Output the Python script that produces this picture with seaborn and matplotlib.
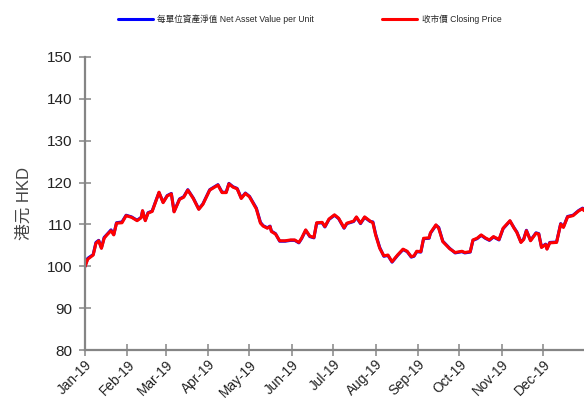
import matplotlib
matplotlib.use("Agg")
import matplotlib.pyplot as plt
import matplotlib.dates as mdates
import seaborn as sns
import pandas as pd

dates = [
    "2019-01-01", "2019-01-03", "2019-01-07", "2019-01-09", "2019-01-11", "2019-01-13", "2019-01-15", "2019-01-17",
    "2019-01-20", "2019-01-22", "2019-01-24", "2019-01-28", "2019-01-31", "2019-02-04", "2019-02-08", "2019-02-11",
    "2019-02-12", "2019-02-14", "2019-02-16", "2019-02-19", "2019-02-22", "2019-02-24", "2019-02-27", "2019-03-02",
    "2019-03-05", "2019-03-07", "2019-03-11", "2019-03-14", "2019-03-17", "2019-03-21", "2019-03-25", "2019-03-28",
    "2019-04-02", "2019-04-08", "2019-04-11", "2019-04-14", "2019-04-16", "2019-04-19", "2019-04-22", "2019-04-25",
    "2019-04-28", "2019-05-01", "2019-05-06", "2019-05-09", "2019-05-11", "2019-05-14", "2019-05-16", "2019-05-17",
    "2019-05-20", "2019-05-23", "2019-05-27", "2019-05-31", "2019-06-03", "2019-06-06", "2019-06-08", "2019-06-11",
    "2019-06-14", "2019-06-17", "2019-06-19", "2019-06-23", "2019-06-25", "2019-06-28", "2019-07-02", "2019-07-05",
    "2019-07-09", "2019-07-11", "2019-07-16", "2019-07-18", "2019-07-21", "2019-07-24", "2019-07-28", "2019-07-30",
    "2019-08-01", "2019-08-04", "2019-08-07", "2019-08-10", "2019-08-13", "2019-08-17", "2019-08-21", "2019-08-24",
    "2019-08-27", "2019-08-29", "2019-08-31", "2019-09-03", "2019-09-05", "2019-09-09", "2019-09-10", "2019-09-14",
    "2019-09-16", "2019-09-19", "2019-09-24", "2019-09-28", "2019-10-03", "2019-10-05", "2019-10-09", "2019-10-11",
    "2019-10-14", "2019-10-17", "2019-10-20", "2019-10-23", "2019-10-26", "2019-10-30", "2019-11-02", "2019-11-07",
    "2019-11-10", "2019-11-12", "2019-11-15", "2019-11-17", "2019-11-19", "2019-11-22", "2019-11-26", "2019-11-28",
    "2019-11-30", "2019-12-03", "2019-12-04", "2019-12-06", "2019-12-11", "2019-12-14", "2019-12-16", "2019-12-19",
    "2019-12-23", "2019-12-27", "2019-12-30", "2019-12-31",
]

closing_price = [
    99.9, 101.7, 102.7, 105.5, 106.1, 104.3, 106.7, 107.5,
    108.5, 107.5, 110.3, 110.4, 112.1, 111.7, 110.9, 111.6,
    113.3, 110.9, 112.7, 113.1, 115.8, 117.7, 115.2, 116.8,
    117.3, 113.0, 116.0, 116.5, 118.2, 116.2, 113.6, 114.8,
    118.2, 119.4, 117.6, 117.6, 119.7, 118.9, 118.5, 116.2,
    117.4, 116.6, 113.7, 110.3, 109.6, 109.1, 109.5, 108.3,
    107.7, 106.1, 106.1, 106.3, 106.3, 105.7, 106.7, 108.7,
    107.2, 106.9, 110.4, 110.5, 109.5, 111.3, 112.3, 111.5,
    109.2, 110.3, 110.8, 111.8, 110.3, 111.8, 110.8, 110.4,
    107.5, 104.3, 102.5, 102.7, 101.1, 102.7, 104.1, 103.6,
    102.3, 102.5, 103.6, 103.5, 106.7, 106.8, 108.0, 109.9,
    109.1, 105.9, 104.2, 103.3, 103.6, 103.3, 103.5, 106.3,
    106.7, 107.5, 106.8, 106.3, 107.1, 106.4, 109.1, 110.9,
    109.1, 108.1, 105.7, 106.4, 108.5, 106.1, 107.9, 107.7,
    104.5, 105.2, 104.1, 105.6, 105.7, 110.1, 109.3, 111.8,
    112.1, 113.2, 113.8, 113.3,
]

nav_per_unit = [
    100.0, 101.9, 102.8, 105.7, 106.2, 104.4, 106.9, 107.6,
    108.7, 107.6, 110.4, 110.6, 112.2, 111.8, 111.0, 111.7,
    113.2, 111.0, 112.8, 113.2, 115.9, 117.6, 115.3, 116.9,
    117.4, 113.1, 116.1, 116.6, 118.3, 116.3, 113.7, 114.9,
    118.3, 119.5, 117.7, 117.7, 119.8, 119.0, 118.6, 116.3,
    117.5, 116.7, 113.9, 110.5, 109.7, 109.2, 109.6, 108.4,
    107.8, 106.0, 106.0, 106.2, 106.2, 105.6, 106.6, 108.6,
    107.1, 106.8, 110.3, 110.4, 109.4, 111.2, 112.2, 111.4,
    109.1, 110.2, 110.7, 111.7, 110.2, 111.7, 110.7, 110.6,
    107.7, 104.5, 102.4, 102.6, 101.0, 102.6, 104.0, 103.5,
    102.2, 102.4, 103.5, 103.4, 106.6, 106.7, 107.9, 109.8,
    109.3, 106.0, 104.3, 103.2, 103.5, 103.2, 103.4, 106.2,
    106.6, 107.4, 106.7, 106.2, 107.0, 106.3, 109.0, 110.8,
    109.2, 108.2, 105.8, 106.5, 108.6, 106.2, 108.0, 107.8,
    104.6, 105.3, 104.2, 105.7, 105.8, 110.2, 109.4, 111.9,
    112.2, 113.3, 113.9, 113.5,
]

y_ticks = [80, 90, 100, 110, 120, 130, 140, 150]
label_nav = "每單位資產淨值 Net Asset Value per Unit"
label_close = "收市價 Closing Price"
y_label = "港元 HKD"

df = pd.DataFrame({
    "date": pd.to_datetime(dates),
    "nav": nav_per_unit,
    "close": closing_price,
})

sns.set_theme(style="white")
plt.rcParams["font.family"] = ["Liberation Sans", "Noto Sans CJK TC", "DejaVu Sans"]

fig = plt.figure(figsize=(5.84, 4.01), dpi=100)
ax = fig.add_axes([0.1455, 0.127, 0.8545, 0.731])

sns.lineplot(data=df, x="date", y="nav", ax=ax, color="#0000FF", linewidth=2.2, label=label_nav)
sns.lineplot(data=df, x="date", y="close", ax=ax, color="#FF0000", linewidth=2.2, label=label_close)

ax.set_xlim(pd.Timestamp("2019-01-01"), pd.Timestamp("2019-12-31"))
ax.set_ylim(80, 150)
ax.set_yticks(y_ticks)
ax.xaxis.set_major_locator(mdates.MonthLocator())
ax.xaxis.set_major_formatter(mdates.DateFormatter("%b-%y"))

for s in ["top", "right"]:
    ax.spines[s].set_visible(False)
for s in ["left", "bottom"]:
    ax.spines[s].set_color("#858585")
    ax.spines[s].set_linewidth(1.6)

ax.tick_params(axis="both", left=True, bottom=True, direction="inout", length=8.5, width=1.1, color="#858585")
ax.tick_params(axis="y", labelsize=11, labelcolor="#222222", pad=5)
ax.tick_params(axis="x", labelsize=9.8, labelcolor="#222222", pad=1)
for lbl in ax.get_xticklabels():
    lbl.set_rotation(45)
    lbl.set_ha("right")
    lbl.set_rotation_mode("anchor")

ax.set_xlabel("")
ax.set_ylabel(y_label, fontsize=12, color="#444444", labelpad=11)

ax.get_legend().remove()
handles, labels = ax.get_legend_handles_labels()
fig.legend(handles, labels, loc="center", bbox_to_anchor=(0.53, 0.953), ncol=2, frameon=False,
           fontsize=6.2, handlelength=4.1, handletextpad=0.5, columnspacing=7.9)

fig.savefig("out.png", dpi=100)
